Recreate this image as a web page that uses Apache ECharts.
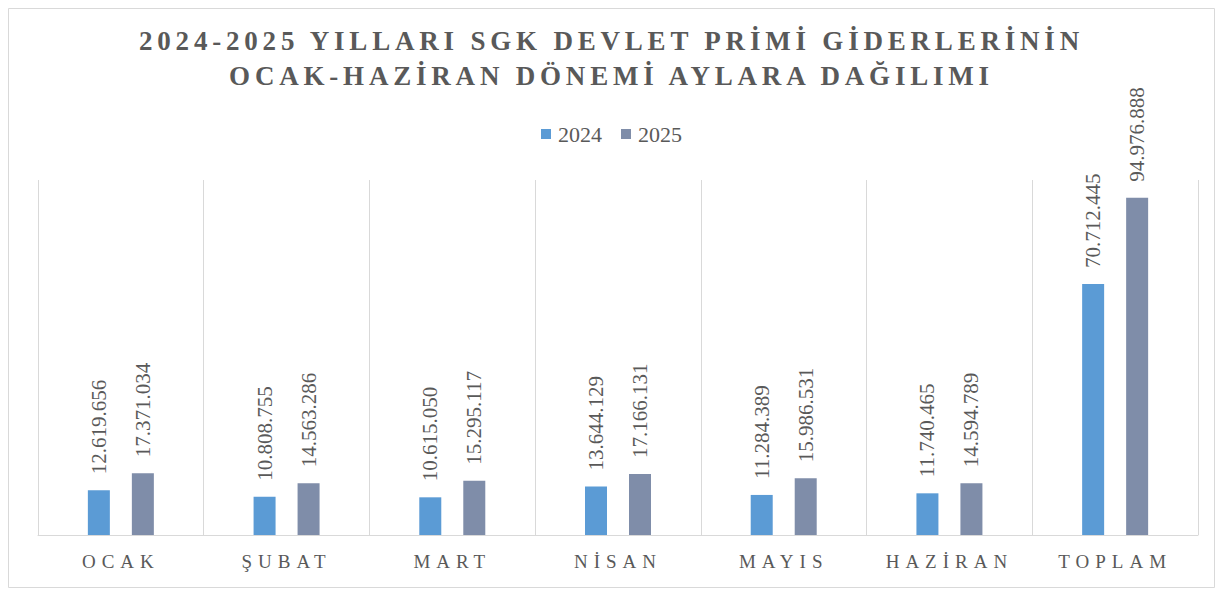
<!DOCTYPE html>
<html>
<head>
<meta charset="utf-8">
<script src="https://cdn.jsdelivr.net/npm/echarts@6/dist/echarts.min.js"></script>
<style>
  html, body { margin: 0; padding: 0; background: #fff; }
  #chart { width: 1223px; height: 592px; }
  /* title and month labels are letter-spaced in the original */
  #chart text[style*="27px"] { letter-spacing: 4.8px; }
  #chart text[style*="19px"] { letter-spacing: 6px; }
</style>
</head>
<body>
<div id="chart"></div>
<script>
var months = ['OCAK', 'ŞUBAT', 'MART', 'NİSAN', 'MAYIS', 'HAZİRAN', 'TOPLAM'];
var values2024 = [12619656, 10808755, 10615050, 13644129, 11284389, 11740465, 70712445];
var values2025 = [17371034, 14563286, 15295117, 17166131, 15986531, 14594789, 94976888];

var myChart = echarts.init(document.getElementById('chart'), null, { renderer: 'svg' });

// 12619656 -> 12.619.656
function dotted(v) {
  return String(v).replace(/\B(?=(\d{3})+(?!\d))/g, '.');
}

var serif = 'Liberation Serif';
var grey = '#595959';

var label = {
  show: true,
  position: 'top',
  rotate: 90,
  align: 'left',
  verticalAlign: 'middle',
  distance: 16,
  color: grey,
  fontFamily: serif,
  fontSize: 21,
  formatter: function (p) { return dotted(p.value); }
};

var option = {
  animation: false,
  textStyle: { fontFamily: serif },
  title: {
    text: '2024-2025 YILLARI SGK DEVLET PRİMİ GİDERLERİNİN\nOCAK-HAZİRAN DÖNEMİ AYLARA DAĞILIMI',
    left: 'center',
    top: 23,
    padding: 0,
    textStyle: {
      color: grey,
      fontFamily: serif,
      fontWeight: 'bold',
      fontSize: 27,
      lineHeight: 35
    }
  },
  legend: {
    data: ['2024', '2025'],
    top: 118,
    left: 'center',
    icon: 'rect',
    itemWidth: 10,
    itemHeight: 10,
    itemGap: 19,
    textStyle: {
      color: grey,
      fontFamily: serif,
      fontSize: 22,
      padding: [0, 0, 0, 2]
    }
  },
  graphic: [{
    type: 'rect',
    shape: { x: 8.5, y: 8.5, width: 1206, height: 579 },
    style: { fill: 'none', stroke: '#D9D9D9', lineWidth: 1 },
    silent: true
  }],
  grid: {
    left: 38,
    right: 25,
    top: 180,
    bottom: 57
  },
  xAxis: {
    type: 'category',
    data: months,
    axisLine: { lineStyle: { color: '#D9D9D9', width: 1 } },
    axisTick: { show: false },
    splitLine: { show: true, interval: 0, lineStyle: { color: '#D9D9D9', width: 1 } },
    axisLabel: {
      color: grey,
      fontFamily: serif,
      fontSize: 19,
      margin: 17
    }
  },
  yAxis: {
    type: 'value',
    min: 0,
    max: 100000000,
    show: false
  },
  series: [
    {
      name: '2024',
      type: 'bar',
      data: values2024,
      barWidth: 22,
      barGap: '100%',
      itemStyle: { color: '#5B9BD5' },
      label: label
    },
    {
      name: '2025',
      type: 'bar',
      data: values2025,
      barWidth: 22,
      barGap: '100%',
      itemStyle: { color: '#7F8DA9' },
      label: label
    }
  ]
};

myChart.setOption(option);
</script>
</body>
</html>
